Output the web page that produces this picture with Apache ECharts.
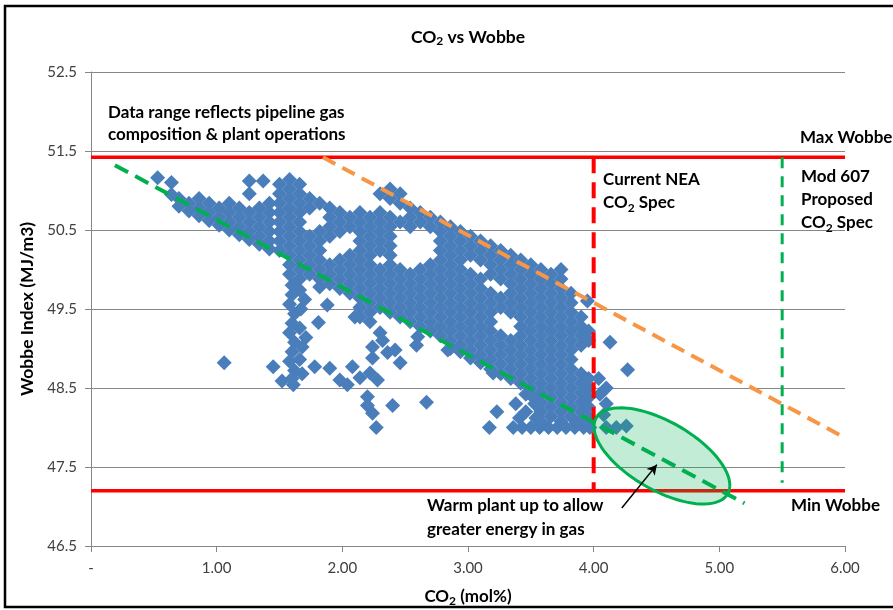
<!DOCTYPE html>
<html><head><meta charset="utf-8">
<script src="https://cdn.jsdelivr.net/npm/echarts@6/dist/echarts.min.js"></script>
<style>html,body{margin:0;padding:0;background:#fff}#c{width:893px;height:610px}</style>
</head><body><div id="c"></div>
<script>
const FONT = 'Lato, "Noto Sans", sans-serif';
const xTickLabels = ['-', '1.00', '2.00', '3.00', '4.00', '5.00', '6.00'];

const tailPoints = [[0.53,51.16],[0.64,51.1],[1.26,51.12],[1.37,51.12],[1.26,50.96],[0.64,50.95]];
const bandColumns = [
  [0.70,[50.9,50.8]],
  [0.78,[50.84,50.74]],
  [0.86,[50.9,50.78,50.68]],
  [0.94,[50.84,50.72,50.62]],
  [1.02,[50.78,50.66,50.56]],
  [1.10,[50.84,50.72,50.6,50.5]],
  [1.18,[50.78,50.66,50.54,50.44]],
  [1.26,[50.72,50.6,50.48,50.38]],
  [1.34,[50.78,50.66,50.54,50.42,50.32]],
  [1.42,[50.84,50.72,50.6,50.48,50.36,50.26]],
  [1.50,[51.08,50.96,50.84,50.72,50.6,50.48,50.36,50.24]],
  [1.58,[51.14,51.02,50.9,50.78,50.66,50.54,50.42,50.3,50.18,50.06,49.94]],
  [1.66,[51.08,50.96,50.84,50.72,50.6,50.48,50.36,50.24,50.12,50.0,49.88]],
  [1.74,[50.9,50.78,50.42,50.3,50.18,50.06,49.94]],
  [1.82,[50.84,50.48,50.36,50.24,50.12,50.0,49.88]],
  [1.90,[50.78,50.66,50.54,50.42,50.06,49.94,49.82]],
  [1.98,[50.72,50.6,50.48,50.12,50.0,49.88,49.76]],
  [2.06,[50.66,50.54,50.18,50.06,49.94,49.82,49.7]],
  [2.14,[50.72,50.6,50.48,50.36,50.24,50.12,50.0,49.88,49.76,49.64,49.52,49.4]],
  [2.22,[50.66,50.54,50.42,50.3,50.18,50.06,49.94,49.82,49.7,49.58,49.46,49.34]],
  [2.30,[50.96,50.72,50.6,50.48,50.36,50.24,50.0,49.88,49.76,49.64,49.52,49.2]],
  [2.38,[51.02,50.9,50.66,50.54,50.42,50.3,50.18,50.06,49.94,49.82,49.7,49.58,49.46]],
  [2.46,[50.96,50.84,50.6,50.0,49.88,49.76,49.64,49.52,49.4]],
  [2.54,[50.78,50.66,50.54,49.94,49.82,49.7,49.58,49.46,49.34]],
  [2.62,[50.72,50.6,50.0,49.88,49.76,49.64,49.52,49.4,49.28]],
  [2.70,[50.66,50.54,50.06,49.94,49.82,49.7,49.58,49.46,49.34,49.22]],
  [2.78,[50.6,50.48,50.36,50.24,50.12,50.0,49.88,49.76,49.64,49.52,49.4,49.28,49.16]],
  [2.86,[50.54,50.42,50.3,50.18,50.06,49.94,49.82,49.7,49.58,49.46,49.34,49.22,49.1,49.0]],
  [2.94,[50.48,50.36,50.24,50.12,50.0,49.88,49.76,49.64,49.52,49.4,49.28,49.16,49.04,48.96]],
  [3.02,[50.42,50.3,50.18,49.94,49.82,49.7,49.58,49.46,49.34,49.22,49.1,48.98,48.88]],
  [3.10,[50.36,50.24,50.12,49.88,49.76,49.64,49.52,49.4,49.28,49.16,49.04,48.92,48.82]],
  [3.18,[50.3,50.18,50.06,49.94,49.7,49.58,49.46,49.34,49.22,49.1,48.98,48.86,48.74]],
  [3.26,[50.24,50.12,50.0,49.88,49.64,49.52,49.16,49.04,48.92,48.8,48.68]],
  [3.34,[50.18,50.06,49.94,49.82,49.7,49.58,49.46,49.1,48.98,48.86,48.74,48.62]],
  [3.42,[50.12,50.0,49.88,49.76,49.64,49.52,49.4,49.28,49.16,49.04,48.92,48.8,48.68,48.56]],
  [3.50,[50.06,49.94,49.82,49.7,49.58,49.46,49.34,49.22,49.1,48.98,48.86,48.74,48.62,48.5]],
  [3.58,[50.0,49.88,49.76,49.64,49.52,49.4,49.28,49.16,49.04,48.92,48.8,48.68,48.56,48.44,48.32,48.2,48.08]],
  [3.66,[49.94,49.82,49.7,49.58,49.46,49.34,49.22,49.1,48.98,48.86,48.74,48.62,48.5,48.38,48.26,48.14]],
  [3.74,[50.0,49.88,49.76,49.64,49.52,49.4,49.28,49.16,49.04,48.92,48.8,48.68,48.56,48.44,48.32,48.2,48.08]],
  [3.82,[49.7,49.58,49.46,49.34,49.22,49.1,48.98,48.86,48.74,48.62,48.5,48.38,48.26,48.14]],
  [3.90,[49.4,49.28,49.16,49.04,48.68,48.56,48.44,48.32,48.2,48.08]],
  [3.96,[49.22,49.1,48.62,48.5,48.38,48.26,48.14]]
];
const columnPoints = [[1.6,49.8],[1.6,49.68],[1.58,49.56],[1.62,49.44],[1.6,49.32],[1.58,49.2],[1.62,49.08],[1.6,48.96],[1.58,48.84],[1.62,48.72],[1.6,48.62],[1.66,49.74],[1.67,49.5],[1.66,49.26],[1.68,49.02],[1.66,48.86],[1.7,49.62],[1.71,49.14],[1.68,48.68]];
const lowerPoints = [[1.06,48.82],[1.45,48.77],[1.52,48.59],[1.61,48.54],[1.82,49.78],[1.88,49.55],[1.81,49.33],[1.78,48.77],[1.9,48.75],[1.98,48.6],[2.04,48.54],[2.08,48.77],[2.14,48.63],[2.22,48.69],[2.28,48.6],[2.2,48.39],[2.2,48.28],[2.24,48.18],[2.27,48.0],[2.4,48.28],[2.67,48.32],[2.24,49.02],[2.24,48.88],[2.42,48.98],[2.46,48.82],[2.32,49.1],[2.36,48.95],[2.59,49.04],[2.6,49.15],[2.84,48.98],[2.1,49.4],[3.2,48.69]];
const floorPoints = [[3.17,48.0],[3.36,48.0],[3.43,48.0],[3.5,48.0],[3.57,48.0],[3.64,48.0],[3.71,48.0],[3.78,48.0],[3.85,48.0],[3.92,48.0],[3.97,48.0],[3.38,48.3],[3.46,48.2],[3.53,48.3],[3.41,48.12],[3.54,48.12],[3.23,48.2],[3.86,48.06],[3.46,48.42],[3.52,48.38]];
const edgePoints = [[3.95,49.6],[4.13,49.08],[4.27,48.73],[4.04,48.62],[4.1,48.5],[4.05,48.42],[4.1,48.3],[4.08,48.16],[4.1,48.0],[4.18,48.0],[4.26,48.02]];

const maxWobbe = 51.42, minWobbe = 47.2;
const neaSpec = 4.0, mod607Spec = 5.5;
const mod607Bottom = 47.3;
const orangeTrend = [[1.846,51.42],[6,47.87]];
const greenTrend = [[0.19,51.32],[5.2,47.04]];
const ellipseMajorAxis = [4.02,48.12,5.066,47.16];
const ellipseRatio = 0.45;
const arrowLine = [[4.224,46.98],[4.503,47.53]];

const scatterData = [];
tailPoints.forEach(p => scatterData.push(p));
bandColumns.forEach(c => c[1].forEach(y => scatterData.push([c[0], y])));
[columnPoints, lowerPoints, floorPoints, edgePoints].forEach(a => a.forEach(p => scatterData.push(p)));

const subRich = (size) => ({ s: { fontFamily: FONT, fontSize: size, fontWeight: 'bold', color: '#000', verticalAlign: 'bottom', lineHeight: 14 } });
const textBase = (size, lh) => ({ fontFamily: FONT, fontSize: size, fontWeight: 'bold', color: '#000', lineHeight: lh, rich: subRich(Math.round(size * 0.68)) });

function lineSeries(data, color, width, dash, z) {
  return { type: 'line', data: data, symbol: 'none', silent: true, z: z, animation: false,
    lineStyle: { color: color, width: width, type: dash || 'solid', cap: 'butt' } };
}

const chart = echarts.init(document.getElementById('c'), null, { renderer: 'canvas' });
chart.setOption({
  animation: false,
  backgroundColor: '#fff',
  title: [
    { text: 'CO{s|2} vs Wobbe', left: 468, top: 27, textAlign: 'center', padding: 0, textStyle: textBase(17.5, 20) },
    { text: 'Data range reflects pipeline gas\ncomposition & plant operations', left: 108, top: 102, padding: 0, textStyle: textBase(17, 22) },
    { text: 'Max Wobbe', left: 800, top: 127, padding: 0, textStyle: textBase(17, 22) },
    { text: 'Current NEA\nCO{s|2} Spec', left: 603, top: 168, padding: 0, textStyle: textBase(17, 23) },
    { text: 'Mod 607\nProposed\nCO{s|2} Spec', left: 801, top: 165, padding: 0, textStyle: textBase(17, 23) },
    { text: 'Min Wobbe', left: 791, top: 495, padding: 0, textStyle: textBase(17, 22) },
    { text: 'Warm plant up to allow\ngreater energy in gas', left: 427, top: 494, padding: 0, textStyle: textBase(17, 24) }
  ],
  graphic: [
    { type: 'rect', silent: true, z: 100, shape: { x: 5, y: 6, width: 900, height: 601 }, style: { fill: 'none', stroke: '#000', lineWidth: 2.5 } }
  ],
  grid: { left: 91, right: 48, top: 72, bottom: 64, containLabel: false, outerBoundsMode: 'none' },
  xAxis: {
    type: 'value', min: 0, max: 6, interval: 1,
    name: 'CO{s|2} (mol%)', nameLocation: 'middle', nameGap: 41,
    nameTextStyle: textBase(17, 20),
    axisLine: { show: true, lineStyle: { color: '#868686', width: 1 } },
    axisTick: { show: true, length: 6, lineStyle: { color: '#868686' } },
    axisLabel: { margin: 15, fontFamily: FONT, fontSize: 15, color: '#404040',
      formatter: v => xTickLabels[Math.round(v)] },
    splitLine: { show: false }
  },
  yAxis: {
    type: 'value', min: 46.5, max: 52.5, interval: 1,
    name: 'Wobbe Index (MJ/m3)', nameLocation: 'middle', nameGap: 54, nameRotate: 90,
    nameTextStyle: { fontFamily: FONT, fontSize: 17.5, fontWeight: 'bold', color: '#000' },
    axisLine: { show: true, lineStyle: { color: '#868686', width: 1 } },
    axisTick: { show: true, length: 6, lineStyle: { color: '#868686' } },
    axisLabel: { margin: 14, fontFamily: FONT, fontSize: 15, color: '#404040', formatter: v => v.toFixed(1) },
    splitLine: { show: true, lineStyle: { color: '#868686', width: 1 } }
  },
  series: [
    { type: 'scatter', data: scatterData, symbol: 'diamond', symbolSize: 15, silent: true, z: 2,
      itemStyle: { color: '#4A7EBB', opacity: 1 }, animation: false },
    lineSeries([[0, maxWobbe],[6, maxWobbe]], '#FF0000', 3.5, null, 3),
    lineSeries([[0, minWobbe],[6, minWobbe]], '#FF0000', 3.5, null, 3),
    lineSeries([[neaSpec, maxWobbe],[neaSpec, minWobbe]], '#FF0000', 4, [16, 9], 3),
    {
      type: 'custom', z: 4, silent: true, animation: false,
      data: [ellipseMajorAxis], encode: { x: [0, 2], y: [1, 3] },
      renderItem: function (params, api) {
        const p1 = api.coord([api.value(0), api.value(1)]);
        const p2 = api.coord([api.value(2), api.value(3)]);
        const cx = (p1[0] + p2[0]) / 2, cy = (p1[1] + p2[1]) / 2;
        const a = Math.hypot(p2[0] - p1[0], p2[1] - p1[1]) / 2;
        const b = a * ellipseRatio;
        const t = Math.atan2(p2[1] - p1[1], p2[0] - p1[0]);
        const pts = [];
        for (let i = 0; i < 120; i++) {
          const u = i / 120 * Math.PI * 2;
          const ex = a * Math.cos(u), ey = b * Math.sin(u);
          pts.push([cx + ex * Math.cos(t) - ey * Math.sin(t), cy + ex * Math.sin(t) + ey * Math.cos(t)]);
        }
        return { type: 'polygon', shape: { points: pts }, style: { fill: 'rgba(0,176,80,0.24)', stroke: '#00B050', lineWidth: 3 } };
      }
    },
    lineSeries(orangeTrend, '#F79646', 4, [14, 8], 5),
    lineSeries([[mod607Spec, maxWobbe],[mod607Spec, mod607Bottom]], '#00B050', 3, [11, 8], 5),
    Object.assign(lineSeries(greenTrend, '#00B050', 4, [15, 8], 5), {
      markLine: { silent: true, symbol: ['none', 'arrow'], symbolSize: [8, 10], animation: false,
        label: { show: false }, lineStyle: { color: '#000', width: 1.5, type: 'solid' },
        emphasis: { disabled: true },
        data: [[{ coord: arrowLine[0] }, { coord: arrowLine[1] }]] }
    })
  ]
});
</script></body></html>
